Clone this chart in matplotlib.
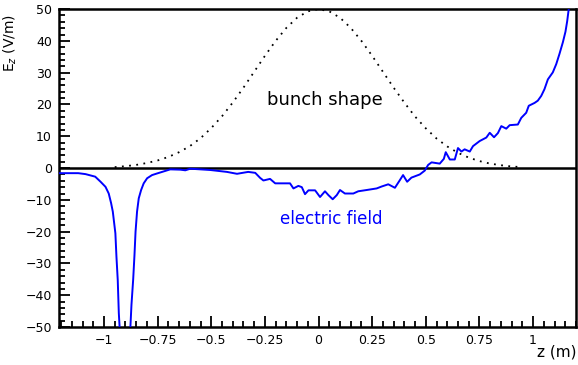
import matplotlib
matplotlib.use("Agg")
import matplotlib.pyplot as plt
from matplotlib.ticker import FixedLocator, MultipleLocator

# bunch shape (dotted black)
z_bunch = [-0.95, -0.9, -0.85, -0.8, -0.75, -0.7, -0.65, -0.6, -0.55, -0.5,
           -0.45, -0.4, -0.35, -0.3, -0.25, -0.2, -0.15, -0.1, -0.05, 0.0,
           0.05, 0.1, 0.15, 0.2, 0.25, 0.3, 0.35, 0.4, 0.45, 0.5,
           0.55, 0.6, 0.65, 0.7, 0.75, 0.8, 0.85, 0.9, 0.95]
bunch = [0.3, 0.6, 1.0, 1.6, 2.4, 3.5, 5.0, 6.9, 9.4, 12.6,
         16.3, 20.6, 25.3, 30.3, 35.3, 40.0, 44.1, 47.3, 49.3, 50.0,
         49.3, 47.3, 44.1, 40.0, 35.3, 30.3, 25.3, 20.6, 16.2, 12.5,
         9.3, 6.8, 4.8, 3.3, 2.2, 1.4, 0.9, 0.5, 0.3]

# electric field (blue)
z_field = [-1.207, -1.12, -1.086, -1.041, -1.016, -0.993, -0.978, -0.967, -0.959,
           -0.947, -0.942, -0.936, -0.931, -0.902, -0.877, -0.872, -0.864, -0.858,
           -0.853, -0.846, -0.838, -0.827, -0.815, -0.799, -0.776, -0.753, -0.729,
           -0.691, -0.644, -0.621, -0.598, -0.505, -0.427, -0.380, -0.328, -0.295,
           -0.272, -0.257, -0.226, -0.202, -0.133, -0.117, -0.094, -0.078, -0.063,
           -0.047, -0.016, 0.007, 0.030, 0.046, 0.066, 0.085, 0.100, 0.123, 0.162,
           0.185, 0.224, 0.271, 0.294, 0.325, 0.356, 0.379, 0.394, 0.413, 0.433,
           0.472, 0.495, 0.511, 0.527, 0.565, 0.584, 0.593, 0.612, 0.635, 0.650,
           0.666, 0.681, 0.705, 0.720, 0.751, 0.782, 0.798, 0.818, 0.836, 0.852,
           0.875, 0.891, 0.929, 0.945, 0.968, 0.980, 1.007, 1.022, 1.038, 1.053,
           1.069, 1.092, 1.108, 1.123, 1.139, 1.151, 1.159, 1.166, 1.174]
field = [-1.6, -1.6, -1.9, -2.7, -4.3, -5.9, -8.0, -11.0, -13.7,
         -20.5, -27.9, -35.2, -45.6, -80.0, -50.0, -43.0, -35.0, -27.4,
         -20.0, -13.7, -9.5, -6.9, -4.8, -3.2, -2.2, -1.7, -1.2,
         -0.4, -0.5, -0.7, -0.2, -0.6, -1.2, -1.8, -1.2, -1.5,
         -3.1, -3.9, -3.4, -4.8, -4.8, -6.4, -5.6, -6.0, -8.2,
         -7.0, -7.0, -9.1, -7.3, -8.5, -9.8, -8.5, -6.9, -8.0, -8.0,
         -7.3, -6.9, -6.4, -5.8, -5.1, -6.2, -3.8, -2.2, -4.3, -3.0,
         -2.0, -0.8, 1.0, 1.8, 1.4, 2.9, 5.0, 2.7, 2.7, 6.3,
         5.2, 5.9, 5.2, 6.9, 8.5, 9.6, 11.1, 9.7, 11.0, 13.2,
         12.4, 13.5, 13.7, 15.8, 17.4, 19.6, 20.5, 21.2, 22.7, 24.8,
         27.9, 30.1, 32.7, 35.9, 39.6, 42.9, 46.2, 49.9, 54.0]

xticks = [-1, -0.75, -0.5, -0.25, 0, 0.25, 0.5, 0.75, 1]
xticklabels = ['\u22121', '\u22120.75', '\u22120.5', '\u22120.25', '0', '0.25', '0.5', '0.75', '1']
yticks = [-50, -40, -30, -20, -10, 0, 10, 20, 30, 40, 50]

plt.rcParams['font.family'] = ['DejaVu Sans']

fig = plt.figure(figsize=(5.78, 3.65), dpi=100)
ax = fig.add_axes([0.102, 0.104, 0.8945, 0.871])

ax.axhline(0, color='black', lw=1.8, zorder=1)
ax.plot(z_bunch, bunch, color='black', lw=1.3, linestyle=(0, (1, 3)), zorder=2)
ax.plot(z_field, field, color='#0000ff', lw=1.4, zorder=3)

ax.set_xlim(-1.21, 1.2)
ax.set_ylim(-50, 50)

ax.xaxis.set_major_locator(FixedLocator(xticks))
ax.set_xticklabels(xticklabels)
ax.xaxis.set_minor_locator(MultipleLocator(0.05))
ax.yaxis.set_major_locator(FixedLocator(yticks))
ax.set_yticklabels(['\u2212%d' % -v if v < 0 else '%d' % v for v in yticks])
ax.yaxis.set_minor_locator(MultipleLocator(2))

ax.tick_params(which='both', direction='in', top=False, right=False,
               labelsize=9, width=1.3, colors='black')
ax.tick_params(which='major', length=8, pad=5)
ax.tick_params(which='minor', length=4)
for sp in ax.spines.values():
    sp.set_linewidth(1.8)

ax.text(0.03, 21.5, 'bunch shape', fontsize=13, color='black', ha='center', va='center')
ax.text(0.06, -16, 'electric field', fontsize=12, color='#0000ff', ha='center', va='center')

fig.text(0.018, 1 - 43 / 365, 'E$_z$ (V/m)', rotation=90, fontsize=10,
         ha='center', va='center')
fig.text(0.997, 1 - 352 / 365, 'z (m)', fontsize=11, ha='right', va='center')

fig.savefig('out.png', dpi=100)
